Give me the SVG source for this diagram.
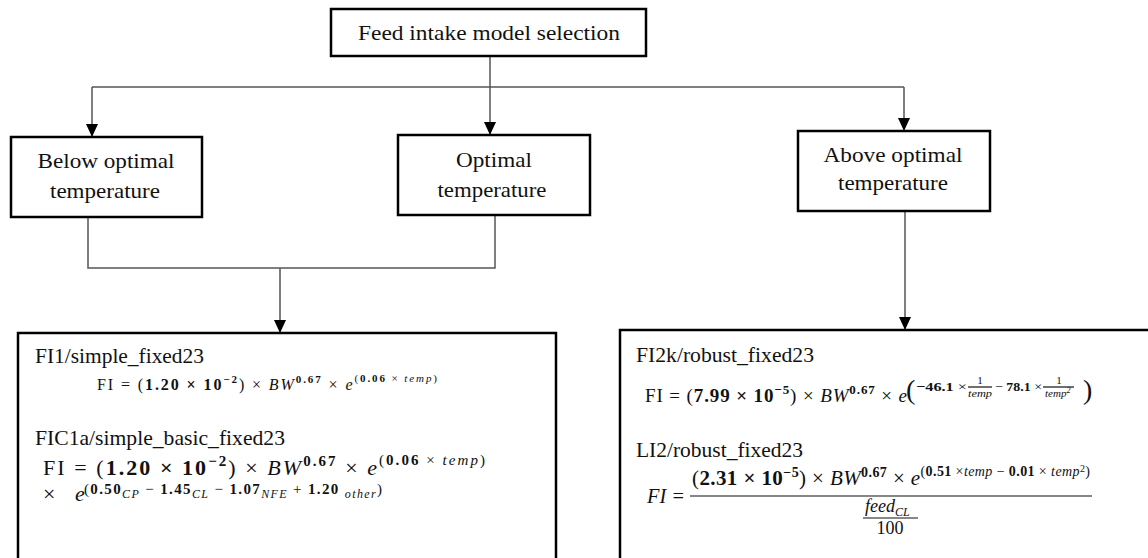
<svg xmlns="http://www.w3.org/2000/svg" width="1148" height="558" viewBox="0 0 1148 558">
<defs>
<style>
.box{fill:#fff;stroke:#000;stroke-width:2.5}
.lbl{font-family:"Liberation Serif","Times New Roman",serif;font-size:21px;fill:#111;text-anchor:middle}
.hd{font-family:"Liberation Serif","Times New Roman",serif;font-size:21px;fill:#111}
.m{font-family:"Liberation Serif","Times New Roman",serif;fill:#111}
.b{font-weight:bold}
.i{font-style:italic}
.con{fill:none;stroke:#555;stroke-width:1.5}
.bar{stroke:#111;stroke-width:1.2}
</style>
<marker id="arr" markerUnits="userSpaceOnUse" markerWidth="13" markerHeight="12" refX="13" refY="6" orient="auto">
<path d="M0,0 L13,6 L0,12 z" fill="#000"/>
</marker>
</defs>
<rect width="1148" height="558" fill="#fff"/>

<g id="connectors">
<path class="con" d="M490,56 V135" marker-end="url(#arr)"/>
<path class="con" d="M92,87 H904"/>
<path class="con" d="M92,87 V137" marker-end="url(#arr)"/>
<path class="con" d="M904,87 V131" marker-end="url(#arr)"/>
<path class="con" d="M88,217 V268 H495 V215"/>
<path class="con" d="M280,268 V333" marker-end="url(#arr)"/>
<path class="con" d="M905,210 V330" marker-end="url(#arr)"/>
</g>

<g id="node-root">
<rect class="box" x="331" y="9" width="315" height="47"/>
<text class="lbl" x="489" y="40" textLength="262" lengthAdjust="spacingAndGlyphs">Feed intake model selection</text>
</g>

<g id="node-below">
<rect class="box" x="11" y="137" width="191" height="80"/>
<text class="lbl" x="106" y="168" textLength="137" lengthAdjust="spacingAndGlyphs">Below optimal</text>
<text class="lbl" x="105" y="198" textLength="110" lengthAdjust="spacingAndGlyphs">temperature</text>
</g>

<g id="node-optimal">
<rect class="box" x="398" y="135" width="192" height="80"/>
<text class="lbl" x="494" y="167" textLength="76" lengthAdjust="spacingAndGlyphs">Optimal</text>
<text class="lbl" x="492" y="197" textLength="109" lengthAdjust="spacingAndGlyphs">temperature</text>
</g>

<g id="node-above">
<rect class="box" x="798" y="131" width="192" height="80"/>
<text class="lbl" x="893" y="162" textLength="139" lengthAdjust="spacingAndGlyphs">Above optimal</text>
<text class="lbl" x="893" y="190" textLength="110" lengthAdjust="spacingAndGlyphs">temperature</text>
</g>

<g id="node-models-left">
<rect class="box" x="18" y="333" width="538" height="240"/>
<text class="hd" x="35" y="363" textLength="169" lengthAdjust="spacingAndGlyphs">FI1/simple_fixed23</text>
<text class="m" x="97" y="390" font-size="16" textLength="340" lengthAdjust="spacing">FI = (<tspan class="b">1.20 × 10</tspan><tspan class="b" font-size="11" dy="-7">−2</tspan><tspan dy="7">) × </tspan><tspan class="i">BW</tspan><tspan class="b" font-size="11" dy="-7">0.67</tspan><tspan dy="7"> × </tspan><tspan class="i">e</tspan><tspan font-size="11" dy="-8">(<tspan class="b">0.06</tspan> × <tspan class="i">temp</tspan>)</tspan></text>

<text class="hd" x="35" y="445" textLength="250" lengthAdjust="spacingAndGlyphs">FIC1a/simple_basic_fixed23</text>
<text class="m" x="43" y="475" font-size="22" textLength="442" lengthAdjust="spacing">FI = (<tspan class="b">1.20 × 10</tspan><tspan class="b" font-size="15" dy="-9">−2</tspan><tspan dy="9">) × </tspan><tspan class="i">BW</tspan><tspan class="b" font-size="15" dy="-9">0.67</tspan><tspan dy="9"> × </tspan><tspan class="i">e</tspan><tspan font-size="15" dy="-10">(<tspan class="b">0.06</tspan> × <tspan class="i">temp</tspan>)</tspan></text>
<text class="m" x="43" y="501" font-size="22">×</text>
<text class="m i" x="75" y="501" font-size="22">e</text>
<text class="m" x="84" y="494" font-size="15" textLength="298" lengthAdjust="spacing">(<tspan class="b">0.50</tspan><tspan class="i" font-size="12" dy="4">CP</tspan><tspan dy="-4"> − </tspan><tspan class="b">1.45</tspan><tspan class="i" font-size="12" dy="4">CL</tspan><tspan dy="-4"> − </tspan><tspan class="b">1.07</tspan><tspan class="i" font-size="12" dy="4">NFE</tspan><tspan dy="-4"> + </tspan><tspan class="b">1.20 </tspan><tspan class="i" font-size="12" dy="4">other</tspan><tspan dy="-4">)</tspan></text>
</g>

<g id="node-models-right">
<rect class="box" x="620" y="330" width="540" height="243"/>
<text class="hd" x="636" y="362" textLength="178" lengthAdjust="spacingAndGlyphs">FI2k/robust_fixed23</text>
<text class="m" x="645" y="402" font-size="19" textLength="262" lengthAdjust="spacing">FI = (<tspan class="b">7.99 × 10</tspan><tspan class="b" font-size="13" dy="-8">−5</tspan><tspan dy="8">) × </tspan><tspan class="i">BW</tspan><tspan class="b" font-size="13" dy="-8">0.67</tspan><tspan dy="8"> × </tspan><tspan class="i">e</tspan></text>
<text class="m" x="906" y="399" font-size="28" fill="#333">(</text>
<text class="m" x="916" y="391" font-size="13" textLength="51" lengthAdjust="spacingAndGlyphs"><tspan class="b">−46.1</tspan> ×</text>
<text class="m" x="980" y="384" font-size="11" text-anchor="middle">1</text>
<line class="bar" x1="968" y1="387" x2="992" y2="387" stroke-width="0.9"/>
<text class="m i" x="980" y="397" font-size="11" text-anchor="middle" textLength="24" lengthAdjust="spacingAndGlyphs">temp</text>
<text class="m" x="995" y="391" font-size="13" textLength="47" lengthAdjust="spacingAndGlyphs">− <tspan class="b">78.1</tspan> ×</text>
<text class="m" x="1059" y="384" font-size="11" text-anchor="middle">1</text>
<line class="bar" x1="1043" y1="387" x2="1074" y2="387" stroke-width="0.9"/>
<text class="m i" x="1045" y="397" font-size="11">temp<tspan font-size="8" dy="-4">2</tspan></text>
<text class="m" x="1083" y="399" font-size="28" fill="#333">)</text>

<text class="hd" x="636" y="457" textLength="167" lengthAdjust="spacingAndGlyphs">LI2/robust_fixed23</text>
<text class="m i" x="647" y="503" font-size="21" textLength="38" lengthAdjust="spacingAndGlyphs">FI =</text>
<text class="m" x="692" y="485" font-size="21" textLength="398" lengthAdjust="spacing">(<tspan class="b">2.31 × 10</tspan><tspan class="b" font-size="14" dy="-8">−5</tspan><tspan dy="8">) × </tspan><tspan class="i">BW</tspan><tspan class="b" font-size="14" dy="-8">0.67</tspan><tspan dy="8"> × </tspan><tspan class="i">e</tspan><tspan font-size="14" dy="-9">(<tspan class="b">0.51</tspan> ×<tspan class="i">temp</tspan> − <tspan class="b">0.01</tspan> × <tspan class="i">temp</tspan><tspan font-size="10" dy="-4">2</tspan><tspan dy="4">)</tspan></tspan></text>
<line class="bar" x1="690" y1="496" x2="1092" y2="496"/>
<text class="m i" x="865" y="512" font-size="18">feed<tspan font-size="12" dy="4">CL</tspan></text>
<line class="bar" x1="863" y1="518" x2="918" y2="518"/>
<text class="m" x="890" y="534" font-size="18" text-anchor="middle">100</text>
</g>
</svg>
